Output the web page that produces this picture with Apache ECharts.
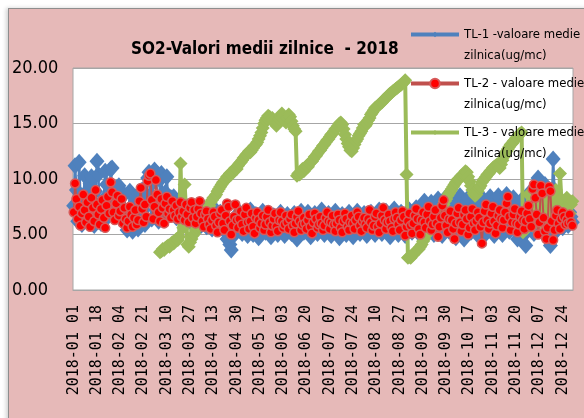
<!DOCTYPE html>
<html><head><meta charset="utf-8">
<script src="https://cdn.jsdelivr.net/npm/echarts@6/dist/echarts.min.js"></script>
<style>
html,body{margin:0;padding:0;background:#fff;overflow:hidden;width:584px;height:418px}
#frame{position:absolute;left:8px;top:8px;width:600px;height:450px;background:#E6B9B8;border:1px solid #8E8E8E;box-shadow:-2px 0 4px rgba(0,0,0,0.18)}
#chart{position:absolute;left:0;top:0;width:584px;height:418px}
</style></head><body>
<div id="frame"></div><div id="chart"></div>
<script>
const title = 'SO2-Valori medii zilnice  - 2018';
const seriesNames = ['TL-1 -valoare medie\nzilnica(ug/mc)', 'TL-2 - valoare medie\nzilnica(ug/mc)', 'TL-3 - valoare medie\nzilnica(ug/mc)'];
const yTicks = [0, 5, 10, 15, 20];
const startDate = '2018-01-01';
const dayCount = 365;

const tl1 = [
7.6,11.2,9.0,6.2,11.5,8.1,5.9,7.4,10.3,8.8,
6.1,7.0,9.6,10.2,6.5,5.8,8.9,11.6,10.4,7.1,
6.0,6.4,8.2,10.7,9.5,6.6,7.8,10.9,11.0,8.3,
7.7,9.2,8.0,9.4,7.3,6.3,7.0,8.6,6.1,5.4,
6.8,8.9,7.5,5.3,6.2,8.3,7.1,5.5,6.6,8.8,
9.0,7.2,5.9,8.5,10.1,10.6,8.4,6.4,9.7,10.8,
10.6,8.1,6.2,9.9,10.5,7.6,6.7,8.8,10.2,7.9,
6.8,8.3,7.0,8.4,7.6,6.5,7.4,8.1,6.9,6.3,
7.8,7.1,6.0,7.5,6.6,6.2,7.3,6.8,5.9,7.0,
6.4,7.2,6.1,5.8,6.9,7.4,6.3,5.7,6.6,7.1,
6.0,5.5,6.8,7.3,6.2,5.9,6.5,7.0,5.6,6.1,
6.7,5.2,4.6,6.0,4.1,3.6,4.8,5.9,6.6,5.3,
6.2,7.0,5.8,5.1,6.4,6.9,5.5,4.9,6.1,7.2,
6.3,5.0,5.7,6.8,6.0,4.7,5.4,6.6,7.1,5.9,
5.2,6.3,6.9,5.6,4.8,5.9,6.7,6.2,5.3,5.0,
6.1,7.0,6.4,5.5,4.9,6.0,6.8,6.5,5.4,5.1,
6.2,6.9,5.8,4.6,5.5,6.6,7.1,6.0,5.2,5.7,
6.5,7.0,5.9,4.8,5.3,6.4,6.9,6.2,5.1,5.6,
6.7,7.2,6.0,5.0,5.5,6.3,6.9,5.7,4.9,5.8,
6.6,7.1,6.1,5.2,4.7,5.9,6.8,6.4,5.3,5.0,
6.2,7.0,6.5,5.4,4.8,5.8,6.7,7.1,6.0,5.1,
5.6,6.4,6.9,5.7,4.9,5.3,6.2,7.0,6.3,5.2,
5.0,6.0,6.8,7.2,5.9,5.1,5.5,6.5,7.1,6.1,
5.3,4.8,5.9,6.9,7.3,6.2,5.4,5.0,6.3,7.0,
6.6,5.5,4.9,5.8,6.7,7.2,6.0,5.2,5.7,6.8,
7.4,6.3,5.1,5.6,6.9,7.6,8.0,6.5,5.4,6.1,
7.3,7.9,6.4,5.0,5.8,7.0,8.2,7.5,5.9,4.9,
6.2,7.7,8.4,6.8,5.3,6.0,7.2,8.1,6.6,4.7,
5.5,7.1,8.5,7.4,5.6,4.6,6.3,7.8,8.3,6.9,
5.2,6.0,7.5,8.6,7.0,5.5,4.8,6.4,7.9,8.2,
6.7,5.1,5.7,7.3,8.4,7.6,5.9,4.9,6.5,7.7,
8.5,7.1,5.4,5.0,6.6,8.0,8.6,6.9,5.3,5.8,
7.2,8.3,7.7,6.1,4.6,5.6,7.0,8.1,6.4,5.0,
4.0,5.5,7.4,8.8,7.9,6.2,5.1,6.7,9.2,10.1,
8.6,6.0,5.2,7.1,9.5,8.4,6.3,4.5,4.0,7.6,
11.8,9.0,6.5,5.4,7.3,8.1,6.6,5.6,6.9,7.5,
6.4,5.8,7.0,6.6,6.1
];

const tl2 = [
7.0,9.6,8.2,6.4,7.5,5.8,6.9,8.6,7.2,6.1,
7.9,6.6,5.7,8.3,7.4,6.2,9.0,7.7,6.8,5.9,
7.3,8.1,6.5,5.6,7.6,8.4,6.9,9.7,8.8,7.0,
6.3,7.8,8.5,6.7,7.1,8.2,6.0,7.4,6.4,5.6,
6.2,7.5,6.8,5.7,6.5,7.2,5.9,6.3,8.0,9.2,
7.3,6.1,7.7,6.6,9.8,10.3,10.5,8.1,6.4,7.5,
9.9,8.6,7.0,6.2,8.2,7.4,6.0,7.8,8.4,6.9,
7.3,6.5,8.0,7.2,6.7,7.6,6.4,7.0,7.9,6.6,
7.1,6.3,7.7,6.8,6.1,7.4,7.9,6.5,7.2,6.0,
6.6,7.3,8.0,6.9,6.2,5.7,6.8,7.1,6.4,5.9,
5.5,6.3,7.0,6.6,5.8,5.2,6.1,6.9,7.2,6.0,
5.4,6.7,7.8,7.5,6.2,5.0,5.8,6.6,7.7,6.3,
5.6,6.4,7.1,5.9,5.3,6.8,7.4,6.1,5.5,6.2,
6.9,5.7,5.1,6.5,7.0,6.3,5.6,6.0,6.7,5.4,
5.9,6.6,7.2,6.1,5.2,5.8,6.4,6.9,5.7,5.3,
6.3,7.0,6.2,5.6,5.9,6.7,6.1,5.5,6.4,6.8,
5.8,5.2,6.0,6.6,7.1,6.2,5.4,5.9,6.5,6.0,
5.5,6.3,6.8,5.7,5.1,6.1,6.9,6.4,5.6,5.9,
6.6,6.0,5.4,5.8,6.5,7.0,6.2,5.5,6.1,6.7,
5.9,5.3,6.0,6.8,6.3,5.6,5.2,6.2,6.9,6.4,
5.7,5.4,6.1,6.7,6.0,5.5,6.3,7.0,6.6,5.8,
5.3,6.2,6.5,5.9,5.6,6.4,7.2,6.1,5.4,5.8,
6.6,6.9,5.7,5.2,6.0,6.7,7.4,6.3,5.5,6.1,
6.8,6.2,5.6,5.3,6.4,7.0,6.5,5.9,5.4,6.3,
7.1,6.6,4.9,5.7,6.2,6.9,5.8,5.1,6.0,6.7,
7.3,6.4,5.5,5.0,6.3,7.0,6.1,5.6,6.8,7.5,
6.2,5.4,5.9,6.6,7.2,6.0,4.8,5.7,6.5,7.6,
8.1,6.7,5.8,5.2,6.4,7.1,6.3,5.5,4.6,6.0,
6.9,7.4,6.1,5.3,5.9,6.8,7.2,6.4,5.0,5.6,
6.6,7.3,6.0,5.4,6.2,7.0,6.5,5.7,4.2,6.1,
7.1,7.7,6.3,5.5,6.0,6.9,7.5,6.2,5.1,5.8,
6.7,7.2,6.4,5.6,6.3,7.0,7.8,8.4,6.6,5.4,
6.1,6.8,7.3,6.0,5.2,5.9,6.6,7.1,6.3,5.5,
6.2,6.9,7.6,6.4,5.7,9.1,9.5,8.3,6.8,5.0,
6.1,9.4,8.7,6.5,5.3,4.6,5.6,9.3,8.9,6.2,
4.5,5.4,6.7,7.2,6.0,5.5,6.4,7.0,6.6,5.9,
6.3,6.0,6.8,6.1,5.8
];

// TL-3 has no values before 2018-03-05 (day index 63)
const tl3FirstDay = 63;
const tl3 = [
3.4,3.5,3.7,3.6,3.8,3.9,4.0,3.9,4.1,4.3,
4.2,4.4,4.6,4.5,4.8,11.4,6.2,5.6,9.5,7.2,
4.1,3.9,4.3,4.6,4.9,5.1,5.4,5.6,5.8,6.1,
6.3,6.5,6.7,7.0,7.2,7.4,7.6,7.9,8.1,8.3,
8.4,8.6,8.9,9.1,9.3,9.5,9.7,9.8,10.0,10.2,
10.3,10.5,10.4,10.6,10.8,11.0,10.9,11.2,11.4,11.5,
11.7,11.9,12.0,12.2,12.3,12.5,12.4,12.6,12.8,13.0,
13.1,13.3,13.6,13.9,14.2,14.6,15.0,15.3,15.5,15.7,
15.6,15.4,15.5,15.3,15.0,14.8,15.1,15.4,15.7,15.9,
15.6,15.3,15.1,15.5,15.8,15.6,15.2,14.8,14.5,14.3,
10.3,10.5,10.4,10.6,10.9,10.7,11.0,11.2,11.1,11.4,
11.5,11.6,11.8,12.0,12.1,12.3,12.5,12.6,12.8,13.0,
13.1,13.3,13.5,13.6,13.8,14.0,14.1,14.3,14.5,14.6,
14.8,15.0,15.1,14.9,14.5,14.0,13.6,13.2,12.9,12.6,
12.5,12.8,13.1,13.4,13.6,13.9,14.1,14.3,14.6,14.9,
14.8,15.0,15.3,15.5,15.8,16.0,16.2,16.4,16.5,16.6,
16.7,16.8,16.9,17.1,17.2,17.3,17.4,17.6,17.7,17.8,
17.9,18.0,18.1,18.2,18.3,18.4,18.5,18.6,18.7,18.9,
10.4,2.9,
3.0,2.9,3.1,3.2,3.4,3.5,3.6,3.7,3.9,4.1,
4.4,4.6,4.9,5.1,5.4,5.6,5.8,6.0,6.2,6.4,
6.5,6.7,6.9,7.2,7.5,7.7,8.0,8.2,8.5,8.7,
8.9,9.1,9.3,9.5,9.7,9.9,10.0,10.1,10.3,10.4,
10.5,10.7,10.6,10.2,9.8,9.4,9.0,8.7,8.5,8.6,
8.9,9.2,9.4,9.7,9.9,10.0,10.2,10.4,10.5,10.7,
10.8,11.0,11.1,11.2,11.3,11.2,11.0,11.3,11.7,12.0,
12.3,12.5,12.7,12.9,13.1,13.2,13.4,13.5,13.7,13.8,
14.0,14.1,14.2,
5.2,6.1,5.5,7.0,8.6,7.4,6.3,5.8,6.9,7.7,
8.3,7.1,6.0,6.6,7.9,8.1,6.8,5.9,7.2,8.0,
7.3,6.4,7.5,8.4,9.0,7.8,6.7,10.5,8.2,7.0,
6.5,7.4,8.3,7.6,6.9,7.7,8.0
];

// category labels (daily dates, shown as "yyyy-mm dd")
const categories = [];
{
  const t0 = Date.parse(startDate + 'T00:00:00Z');
  for (let i = 0; i < dayCount; i++) {
    const d = new Date(t0 + i * 86400000);
    const mm = String(d.getUTCMonth() + 1).padStart(2, '0');
    const dd = String(d.getUTCDate()).padStart(2, '0');
    categories.push(d.getUTCFullYear() + '-' + mm + ' ' + dd);
  }
}
const tl3Full = new Array(tl3FirstDay).fill(null).concat(tl3);

const NARROW = "'DejaVu Sans Condensed','Liberation Sans Narrow',sans-serif";
const BLUE = '#4F81BD', REDLINE = '#C0504D', RED = '#FF0000', GREEN = '#9BBB59';

const legendText = {fontFamily: NARROW, fontSize: 13, lineHeight: 21, color: '#000'};
function mkLegend(name, top, h) {
  return {orient: 'vertical', left: 409, top: top, padding: 0, itemGap: 0, itemWidth: 48, itemHeight: h,
    selectedMode: false, data: [name], textStyle: legendText, lineStyle: {width: 4},
    formatter: n => '\n' + n};
}

const chart = echarts.init(document.getElementById('chart'), null, {renderer: 'canvas'});
chart.setOption({
  animation: false,
  backgroundColor: 'transparent',
  title: {text: title, left: 131, top: 41, padding: 0,
    textStyle: {fontFamily: NARROW, fontWeight: 'bold', fontSize: 17, color: '#000'}},
  legend: [mkLegend(seriesNames[0], 3, 7), mkLegend(seriesNames[1], 52, 12), mkLegend(seriesNames[2], 101, 6)],
  grid: {left: 73, right: 11, top: 68, bottom: 128, show: true, backgroundColor: '#fff', borderColor: '#A6A6A6', borderWidth: 1},
  xAxis: {
    type: 'category', data: categories, boundaryGap: true,
    axisLine: {show: true, lineStyle: {color: '#A6A6A6'}},
    axisTick: {show: false},
    axisLabel: {interval: 16, rotate: 90, margin: 15, fontFamily: "'DejaVu Sans Mono',monospace", fontSize: 15, color: '#000'},
    splitLine: {show: false}
  },
  yAxis: {
    type: 'value', min: yTicks[0], max: yTicks[yTicks.length - 1], interval: 5,
    axisLine: {show: false}, axisTick: {show: false},
    axisLabel: {formatter: v => v.toFixed(2), align: 'left', margin: 61, fontFamily: NARROW, fontSize: 18, color: '#000'},
    splitLine: {lineStyle: {color: '#A6A6A6', width: 1}}
  },
  series: [
    {name: seriesNames[0], type: 'line', data: tl1, symbol: 'diamond', symbolSize: [15, 17], showAllSymbol: true,
      lineStyle: {color: BLUE, width: 2.5}, itemStyle: {color: BLUE}, z: 2},
    {name: seriesNames[2], type: 'line', data: tl3Full, symbol: 'diamond', symbolSize: 14, showAllSymbol: true, connectNulls: false,
      lineStyle: {color: GREEN, width: 4}, itemStyle: {color: GREEN}, z: 3},
    {name: seriesNames[1], type: 'line', data: tl2, symbol: 'circle', symbolSize: 9, showAllSymbol: true,
      lineStyle: {color: REDLINE, width: 2}, itemStyle: {color: RED, borderColor: '#D65A5A', borderWidth: 1.5}, z: 4}
  ]
});
</script>
</body></html>
